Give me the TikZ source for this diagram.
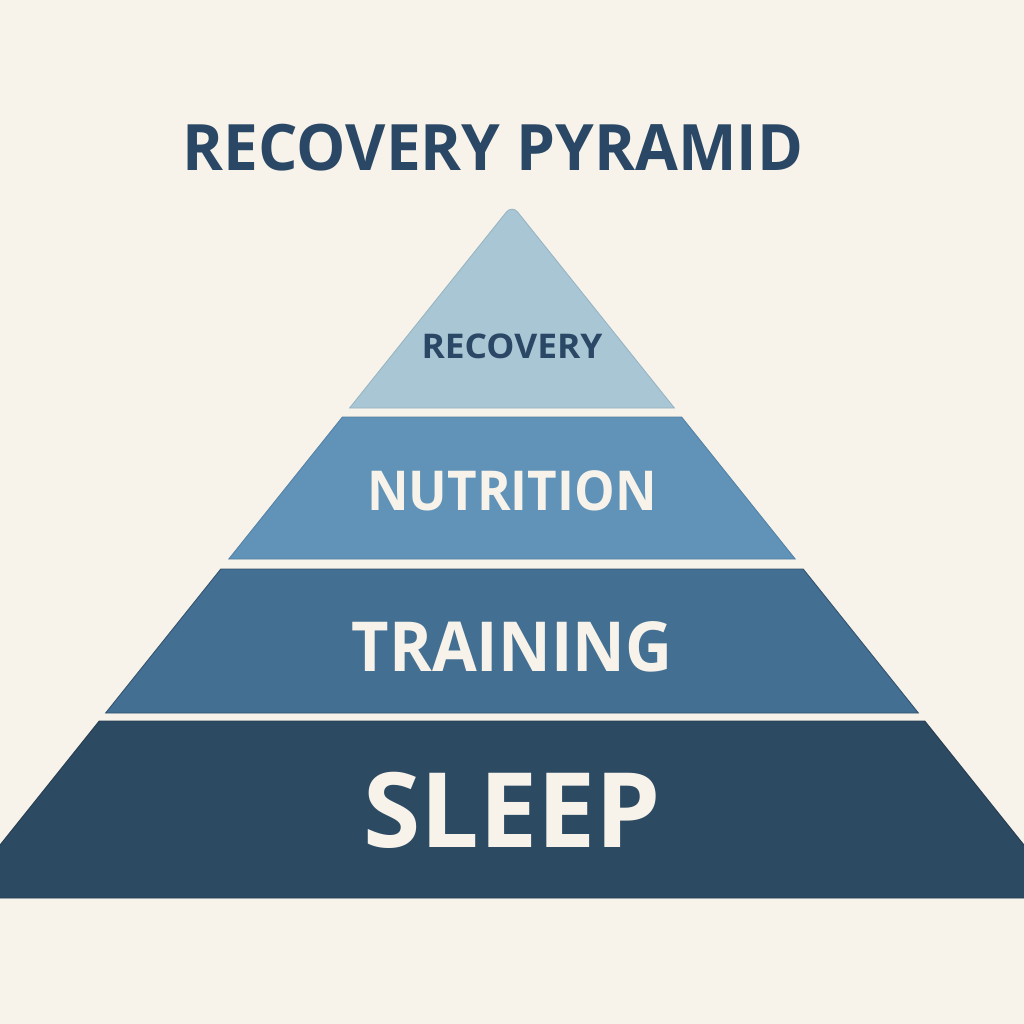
\documentclass[tikz,border=0pt]{standalone}
\usepackage{fontspec}
\setmainfont{Open Sans}
\usepackage{tikz}

\definecolor{paper}{HTML}{F7F3EA}
\definecolor{navy}{HTML}{2A4866}
\definecolor{tierone}{HTML}{A9C6D4}
\definecolor{tiertwo}{HTML}{6093B7}
\definecolor{tierthree}{HTML}{436F92}
\definecolor{tierfour}{HTML}{2D4A63}

\begin{document}
\begin{tikzpicture}[x=1pt,y=-1pt,
    tier/.style={line width=0.8pt},
    lbl/.style={font=\bfseries, text=paper, inner sep=0pt}]
            % Page and background
            \useasboundingbox (0,0) rectangle (1024,1024);
            \fill[paper] (0,0) rectangle (1024,1024);
            \clip (0,0) rectangle (1024,1024);
            % Title
            \node[font=\bfseries\fontsize{64}{64}\selectfont, text=navy, inner sep=0pt, xscale=0.97] (title) at (493,148) {RECOVERY PYRAMID};
            % Draw tiers, top to bottom
            \filldraw[tier, fill=tierone, draw=tierone!85!navy] (349.6,408) [rounded corners=9pt] -- (512,205) [sharp corners] -- (674.4,408) -- cycle;
            \filldraw[tier, fill=tiertwo, draw=tiertwo!75!navy] (342.4,417) -- (681.6,417) -- (795.2,559) -- (228.8,559) -- cycle;
            \filldraw[tier, fill=tierthree, draw=tierthree!70!navy!80!black] (220.8,569) -- (803.2,569) -- (918.4,713) -- (105.6,713) -- cycle;
            \filldraw[tier, fill=tierfour, draw=tierfour!80!black] (99.2,721) -- (924.8,721) -- (1066.4,898) -- (-42.4,898) -- cycle;
            % Tier labels
            \node[lbl, text=navy, font=\bfseries\fontsize{34}{34}\selectfont, xscale=1.04] (recovery) at (512,346) {RECOVERY};
            \node[lbl, font=\bfseries\fontsize{55}{55}\selectfont, xscale=0.93] (nutrition) at (512,491) {NUTRITION};
            \node[lbl, font=\bfseries\fontsize{69}{69}\selectfont, xscale=0.94] (training) at (512,647) {TRAINING};
            \node[lbl, font=\bfseries\fontsize{104}{104}\selectfont] (sleep) at (512,810) {SLEEP};
        \end{tikzpicture}
\end{document}
